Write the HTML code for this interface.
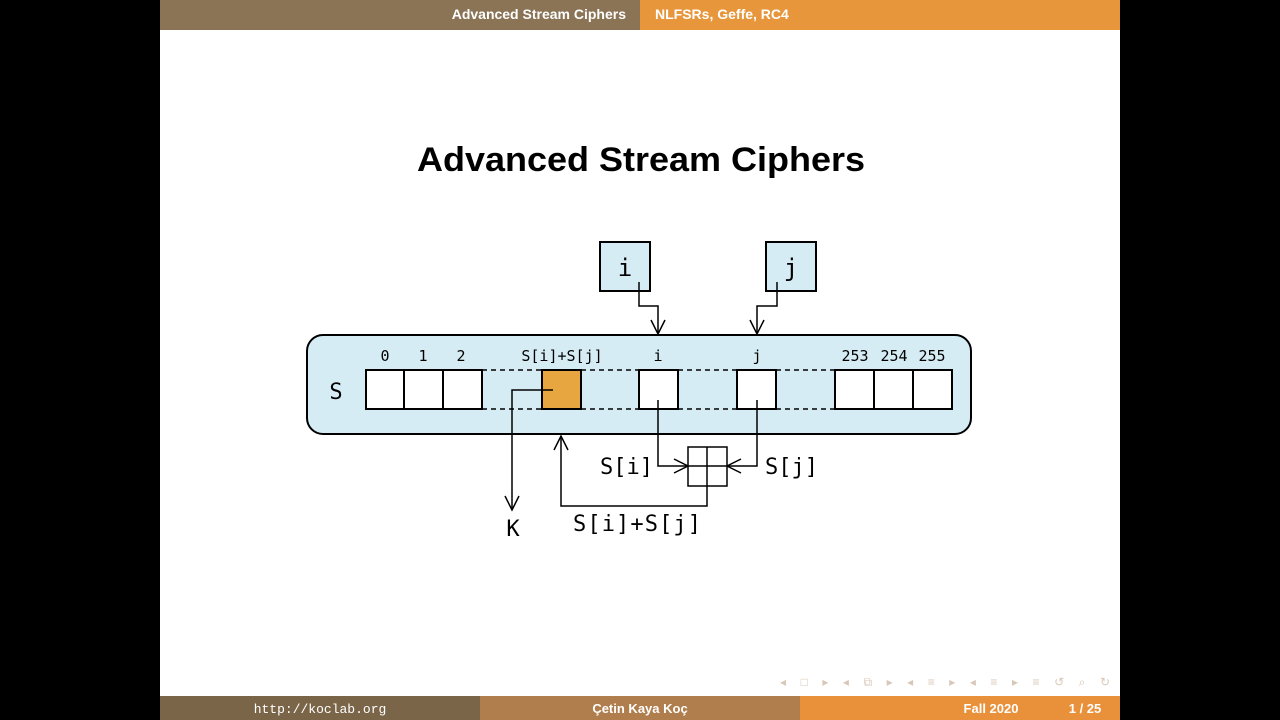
<!DOCTYPE html>
<html><head><meta charset="utf-8"><style>
html,body{margin:0;padding:0;background:#000;width:1280px;height:720px;overflow:hidden}
</style></head><body>
<svg width="1280" height="720" xmlns="http://www.w3.org/2000/svg" font-family="Liberation Sans, sans-serif">
<rect x="160" y="0" width="960" height="720" fill="#fff"/>
<rect x="160" y="0" width="480" height="30" fill="#8b7355"/>
<rect x="640" y="0" width="480" height="30" fill="#e8963c"/>
<text x="626" y="19" fill="#fff" font-size="14" font-weight="bold" text-anchor="end">Advanced Stream Ciphers</text>
<text x="655" y="19" fill="#fff" font-size="14" font-weight="bold">NLFSRs, Geffe, RC4</text>
<rect x="160" y="696" width="320" height="24" fill="#7b6549"/>
<rect x="480" y="696" width="320" height="24" fill="#b07e4c"/>
<rect x="800" y="696" width="320" height="24" fill="#e8913a"/>
<text x="320" y="713" fill="#fff" font-size="13" font-family="Liberation Mono, monospace" text-anchor="middle">http://koclab.org</text>
<text x="640" y="713" fill="#fff" font-size="13" font-weight="bold" text-anchor="middle">Çetin Kaya Koç</text>
<text x="991" y="713" fill="#fff" font-size="13" font-weight="bold" text-anchor="middle">Fall 2020</text>
<text x="1085" y="713" fill="#fff" font-size="13" font-weight="bold" text-anchor="middle">1 / 25</text>
<text x="780" y="686" fill="#d8c8b8" font-size="12" textLength="330" lengthAdjust="spacing">◂ □ ▸ ◂ ⧉ ▸ ◂ ≡ ▸ ◂ ≡ ▸ ≡ ↺ ⌕ ↻</text>
<text x="417" y="171" font-size="34" font-weight="bold" fill="#000" textLength="448" lengthAdjust="spacingAndGlyphs">Advanced Stream Ciphers</text>

<g stroke="#000" stroke-width="2" fill="none">
<rect x="307" y="335" width="664" height="99" rx="16" fill="#d6ecf5"/>
<rect x="600" y="242" width="50" height="49" fill="#d6ecf5"/>
<rect x="766" y="242" width="50" height="49" fill="#d6ecf5"/>
<g fill="#fff">
<rect x="366" y="370" width="38" height="39"/><rect x="404" y="370" width="39" height="39"/><rect x="443" y="370" width="39" height="39"/>
<rect x="542" y="370" width="39" height="39" fill="#e8a640"/>
<rect x="639" y="370" width="39" height="39"/>
<rect x="737" y="370" width="39" height="39"/>
<rect x="835" y="370" width="39" height="39"/><rect x="874" y="370" width="39" height="39"/><rect x="913" y="370" width="39" height="39"/>
</g>
<g stroke-dasharray="5,4" stroke-width="1.5">
<path d="M482 370H542M482 409H542M581 370H639M581 409H639M678 370H737M678 409H737M776 370H835M776 409H835"/>
</g>
<g stroke-width="1.5">
<path d="M639 282V306H658V333"/><path d="M651 320L658 334L665 320"/>
<path d="M777 282V306H757V333"/><path d="M750 320L757 334L764 320"/>
<rect x="688" y="447" width="39" height="39"/><path d="M707 447V486M688 466H727"/>
<path d="M658 400V466H687"/><path d="M674 459L688 466L674 473"/>
<path d="M757 400V466H728"/><path d="M741 459L727 466L741 473"/>
<path d="M707 486V506H561V436"/><path d="M554 450L561 436L568 450"/>
<path d="M553 390H512V509"/><path d="M505 496L512 510L519 496"/>
</g>
</g>
<g font-family="DejaVu Sans Mono, Liberation Mono, monospace" fill="#000">
<text x="625" y="276" font-size="24" text-anchor="middle">i</text>
<text x="791" y="276" font-size="24" text-anchor="middle">j</text>
<text x="336" y="399" font-size="22" text-anchor="middle">S</text>
<g font-size="15" text-anchor="middle">
<text x="385" y="361">0</text><text x="423" y="361">1</text><text x="461" y="361">2</text>
<text x="562" y="361">S[i]+S[j]</text><text x="658" y="361">i</text><text x="757" y="361">j</text>
<text x="855" y="361">253</text><text x="894" y="361">254</text><text x="932" y="361">255</text>
</g>
<g font-size="22">
<text x="600" y="474">S[i]</text><text x="765" y="474">S[j]</text>
<text x="573" y="531" textLength="128">S[i]+S[j]</text><text x="513" y="536" text-anchor="middle">K</text>
</g>
</g>
</svg>
</body></html>
